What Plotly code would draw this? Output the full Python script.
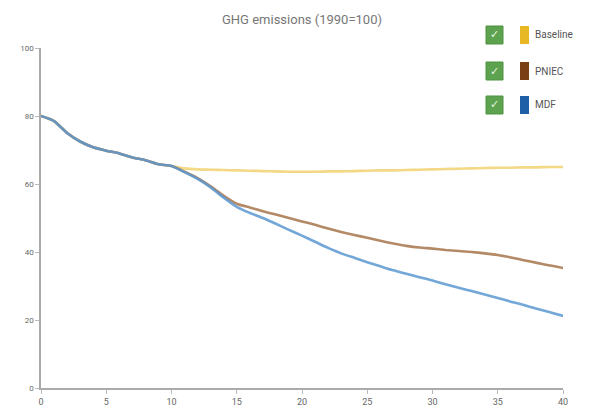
import plotly.graph_objects as go

years = list(range(0, 41))

baseline = [80, 78.5, 75, 72.5, 70.8, 69.8, 69, 67.8, 67, 65.8, 65.3,
            64.6, 64.3, 64.2, 64.1, 64.0, 63.9, 63.8, 63.7, 63.6, 63.6,
            63.6, 63.7, 63.7, 63.8, 63.9, 64.0, 64.0, 64.1, 64.2, 64.3,
            64.4, 64.5, 64.6, 64.7, 64.8, 64.8, 64.9, 64.9, 65.0, 65.0]

pniec = [80, 78.5, 75, 72.5, 70.8, 69.8, 69, 67.8, 67, 65.8, 65.3,
         63.6, 61.7, 59.3, 56.5, 54.2, 53.1, 52.0, 51.0, 50.0, 49.0,
         48.0, 46.9, 45.9, 45.0, 44.2, 43.3, 42.5, 41.8, 41.3, 41.0,
         40.6, 40.3, 40.0, 39.6, 39.1, 38.4, 37.6, 36.8, 36.0, 35.3]

mdf = [80, 78.5, 75, 72.5, 70.8, 69.8, 69, 67.8, 67, 65.8, 65.3,
       63.5, 61.5, 59.0, 56.0, 53.3, 51.5, 50.0, 48.3, 46.5, 44.8,
       43.0, 41.2, 39.6, 38.3, 37.0, 35.8, 34.6, 33.6, 32.6, 31.6,
       30.5, 29.5, 28.5, 27.5, 26.5, 25.4, 24.4, 23.3, 22.3, 21.2]

series_names = ["Baseline", "PNIEC", "MDF"]
line_colors = ["#f2d270", "#a8764c", "#5a98d2"]
swatch_colors = ["#e8b824", "#7a3f12", "#1f5fa8"]
series_values = [baseline, pniec, mdf]

x_ticks = [0, 5, 10, 15, 20, 25, 30, 35, 40]
y_ticks = [0, 20, 40, 60, 80, 100]

fig = go.Figure()
for name, vals, col in zip(series_names, series_values, line_colors):
    fig.add_trace(go.Scatter(x=years, y=vals, mode="lines", name=name,
                             line=dict(color=col, width=2.6, shape="spline", smoothing=0.6),
                             opacity=0.85, showlegend=False))

# custom legend with checkboxes
rows_py = [35, 71, 105]
W, H = 522, 340
L, B = 41, 388
def px(x):
    return (x - L) / W
def py(y):
    return (B - y) / H

shapes = []
annotations = []
for name, sc, yc in zip(series_names, swatch_colors, rows_py):
    shapes.append(dict(type="rect", xref="paper", yref="paper",
                       x0=px(486), x1=px(503), y0=py(yc + 9), y1=py(yc - 9),
                       fillcolor="#5da24e", line=dict(color="#4f9340", width=1)))
    shapes.append(dict(type="rect", xref="paper", yref="paper",
                       x0=px(520), x1=px(529), y0=py(yc + 9), y1=py(yc - 9),
                       fillcolor=sc, line=dict(width=0)))
    annotations.append(dict(xref="paper", yref="paper", x=px(494.5), y=py(yc),
                            text="✓", showarrow=False,
                            font=dict(color="#e8f5e0", size=11, family="DejaVu Sans"),
                            xanchor="center", yanchor="middle"))
    annotations.append(dict(xref="paper", yref="paper", x=px(533), y=py(yc),
                            text=name, showarrow=False,
                            font=dict(color="#555555", size=10, family="Roboto"),
                            xanchor="left", yanchor="middle"))

fig.update_layout(
    width=591, height=410,
    margin=dict(l=41, r=28, t=48, b=22, autoexpand=False),
    paper_bgcolor="white", plot_bgcolor="white",
    title=dict(text="GHG emissions (1990=100)", x=0.511, xanchor="center",
               y=0.952, yanchor="middle",
               font=dict(family="Roboto", size=13, color="#777777")),
    xaxis=dict(range=[0, 40], tickvals=x_ticks, ticks="outside", ticklen=4,
               tickcolor="#bbbbbb", showgrid=False, zeroline=False, automargin=False,
               showline=True, linecolor="#aaaaaa", linewidth=1.5,
               tickfont=dict(family="Roboto", size=9, color="#666666")),
    yaxis=dict(range=[0, 100], tickvals=y_ticks, ticks="outside", ticklen=4,
               tickcolor="#bbbbbb", showgrid=False, zeroline=False, automargin=False,
               showline=True, linecolor="#aaaaaa", linewidth=1.5,
               tickfont=dict(family="Roboto", size=8, color="#666666")),
    shapes=shapes, annotations=annotations,
)

fig.write_html("out.html", config={"responsive": False, "displayModeBar": False},
               post_script="document.body.style.margin='0';document.body.style.overflow='hidden';")
